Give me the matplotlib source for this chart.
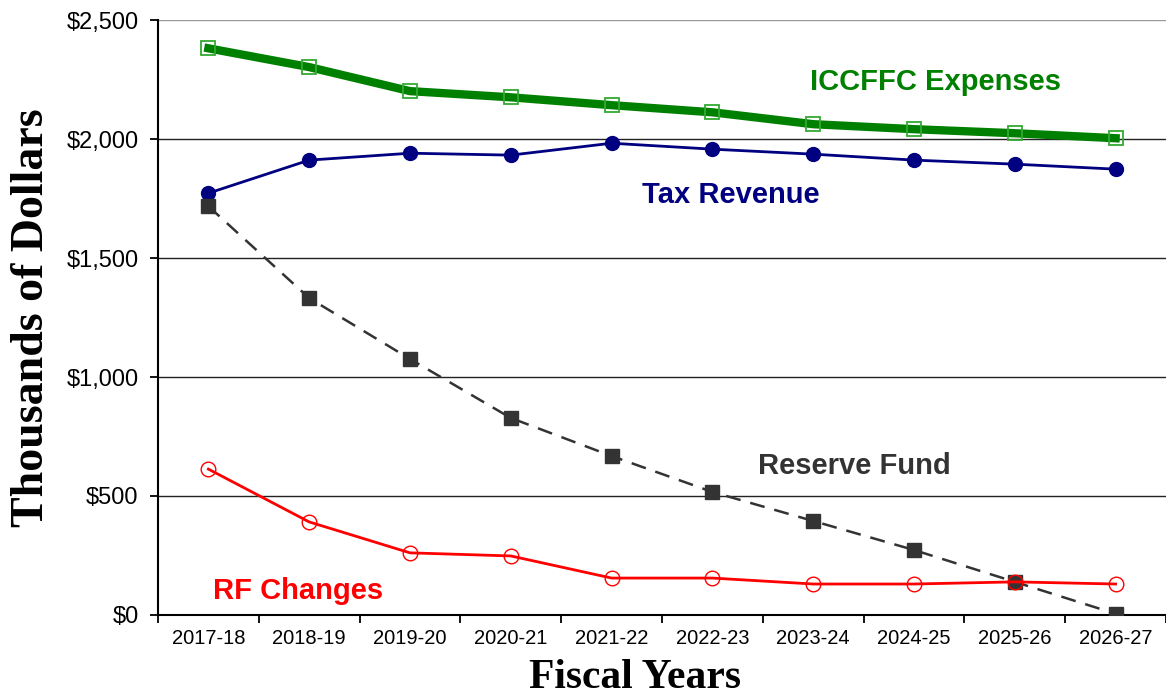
import numpy as np
import matplotlib
matplotlib.use("Agg")
import matplotlib.pyplot as plt
from matplotlib.ticker import FuncFormatter

# Data (thousands of dollars)
years = ["2017-18", "2018-19", "2019-20", "2020-21", "2021-22",
         "2022-23", "2023-24", "2024-25", "2025-26", "2026-27"]
expenses = [2382, 2303, 2202, 2176, 2143, 2113, 2063, 2042, 2025, 2004]
tax_revenue = [1773, 1912, 1941, 1933, 1983, 1958, 1937, 1912, 1895, 1874]
reserve_fund = [1718, 1332, 1076, 828, 668, 517, 395, 273, 139, 5]
rf_changes = [613, 391, 261, 248, 155, 155, 130, 130, 139, 130]

plt.rcParams['font.family'] = ['Liberation Sans', 'DejaVu Sans']

fig = plt.figure(figsize=(11.66, 6.98), dpi=100)
ax = fig.add_axes([0.1355, 0.119, 0.8645, 0.852])

x = np.arange(len(years))

ax.plot(x, expenses, color='#008000', lw=6, marker='s', ms=10,
        mfc='none', mec='#33aa33', mew=1.3, zorder=5)
ax.plot(x, tax_revenue, color='#000080', lw=2, marker='o', ms=10,
        mfc='#000080', mec='#000080', zorder=4)
ax.plot(x, reserve_fund, color='#333333', lw=1.8, ls=(0, (6, 4)),
        marker='s', ms=10.5, mfc='#333333', mec='#333333', zorder=4)
ax.plot(x, rf_changes, color='#ff0000', lw=2, marker='o', ms=10.5,
        mfc='none', mec='#ff0000', mew=1, zorder=4)

# Labels on the lines
ax.text(7.21, 2240, 'ICCFFC Expenses', color='#008000', fontsize=21,
        fontweight='bold', ha='center', va='center')
ax.text(5.18, 1765, 'Tax Revenue', color='#000080', fontsize=21,
        fontweight='bold', ha='center', va='center')
ax.text(6.41, 626, 'Reserve Fund', color='#333333', fontsize=21,
        fontweight='bold', ha='center', va='center')
ax.text(0.89, 100, 'RF Changes', color='#ff0000', fontsize=21,
        fontweight='bold', ha='center', va='center')

ax.set_xlim(-0.5, len(years) - 0.5)
ax.set_ylim(0, 2500)
ax.set_yticks(np.arange(0, 2501, 500))
ax.yaxis.set_major_formatter(FuncFormatter(lambda v, p: '${:,.0f}'.format(v)))
ax.grid(axis='y', color='#222222', lw=1)
ax.set_axisbelow(True)
ax.get_ygridlines()[-1].set_color('#999999')

ax.set_xticks(x)
ax.set_xticklabels(years, fontsize=14.5)
ax.tick_params(axis='x', which='major', length=0, pad=10)
ax.set_xticks(np.arange(-0.5, len(years), 1), minor=True)
ax.tick_params(axis='x', which='minor', length=6, width=1.3, color='black')
ax.tick_params(axis='y', labelsize=17, length=6, width=1.3, pad=8)

for s in ['top', 'right']:
    ax.spines[s].set_visible(False)
ax.spines['left'].set_linewidth(1.5)
ax.spines['bottom'].set_linewidth(1.5)

ax.set_ylabel('Thousands of Dollars', family='Liberation Serif',
              fontweight='bold', fontsize=33)
ax.yaxis.set_label_coords(-0.125, 0.5)
ax.set_xlabel('Fiscal Years', family='Liberation Serif',
              fontweight='bold', fontsize=30)
ax.xaxis.set_label_coords(0.473, -0.106)
ax.xaxis.label.set_va('center')
ax.yaxis.label.set_va('center')

fig.savefig('out.png', dpi=100)
